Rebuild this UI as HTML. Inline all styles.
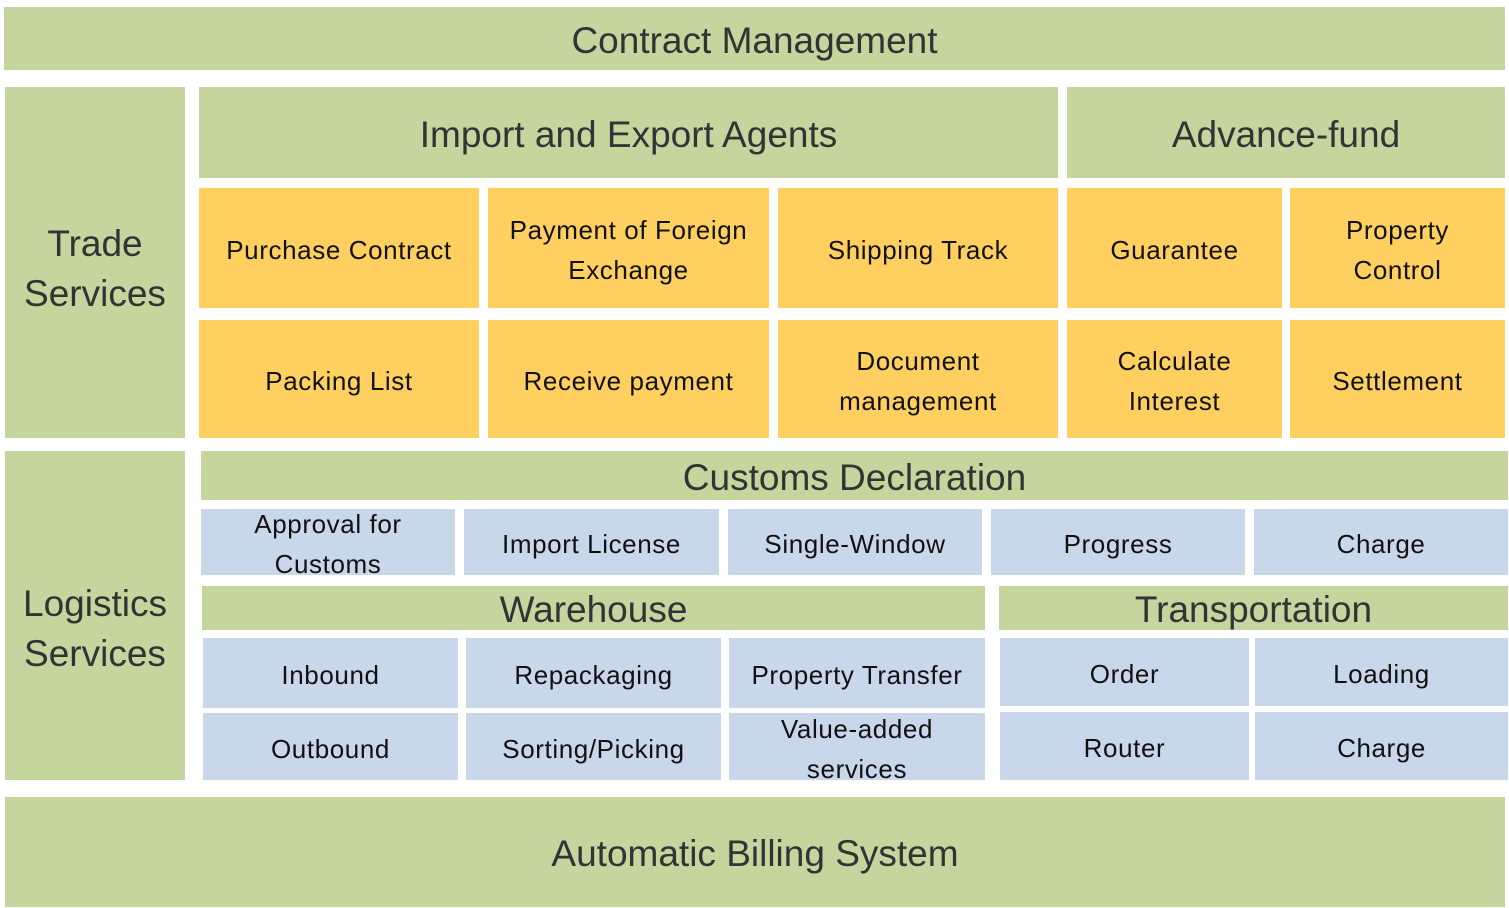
<!DOCTYPE html>
<html><head><style>
body{margin:0;width:1509px;height:908px;background:#fff;position:relative;overflow:hidden;font-family:"Liberation Sans",sans-serif;}
div.b{position:absolute;display:flex;align-items:center;justify-content:center;text-align:center;box-sizing:border-box;padding-top:4px;}
.g{background:#C4D59E;color:#333;font-size:37px;}
.o{background:#FFD05F;color:#111;font-size:26px;line-height:40px;letter-spacing:0.6px;}
.u{background:#C9D7EA;color:#111;font-size:26px;line-height:40px;letter-spacing:0.6px;}
</style></head><body>
<div class="b g" style="left:4px;top:7px;width:1501px;height:63px">Contract Management</div>
<div class="b g" style="left:5px;top:87px;width:180px;height:351px;line-height:50px;padding-top:12px">Trade<br>Services</div>
<div class="b g" style="left:199px;top:87px;width:859px;height:91px">Import and Export Agents</div>
<div class="b g" style="left:1067px;top:87px;width:438px;height:91px">Advance-fund</div>

<div class="b o" style="left:199px;top:188px;width:280px;height:120px">Purchase Contract</div>
<div class="b o" style="left:488px;top:188px;width:281px;height:120px">Payment of Foreign<br>Exchange</div>
<div class="b o" style="left:778px;top:188px;width:280px;height:120px">Shipping Track</div>
<div class="b o" style="left:1067px;top:188px;width:215px;height:120px">Guarantee</div>
<div class="b o" style="left:1290px;top:188px;width:215px;height:120px">Property<br>Control</div>
<div class="b o" style="left:199px;top:320px;width:280px;height:118px">Packing List</div>
<div class="b o" style="left:488px;top:320px;width:281px;height:118px">Receive payment</div>
<div class="b o" style="left:778px;top:320px;width:280px;height:118px">Document<br>management</div>
<div class="b o" style="left:1067px;top:320px;width:215px;height:118px">Calculate<br>Interest</div>
<div class="b o" style="left:1290px;top:320px;width:215px;height:118px">Settlement</div>

<div class="b g" style="left:5px;top:451px;width:180px;height:329px;line-height:50px;padding-top:26px">Logistics<br>Services</div>
<div class="b g" style="left:201px;top:451px;width:1307px;height:49px">Customs Declaration</div>
<div class="b u" style="left:201px;top:509px;width:254px;height:66px">Approval for<br>Customs</div>
<div class="b u" style="left:464px;top:509px;width:255px;height:66px">Import License</div>
<div class="b u" style="left:728px;top:509px;width:254px;height:66px">Single-Window</div>
<div class="b u" style="left:991px;top:509px;width:254px;height:66px">Progress</div>
<div class="b u" style="left:1254px;top:509px;width:254px;height:66px">Charge</div>

<div class="b g" style="left:202px;top:586px;width:783px;height:44px">Warehouse</div>
<div class="b g" style="left:999px;top:586px;width:509px;height:44px">Transportation</div>
<div class="b u" style="left:203px;top:638px;width:255px;height:70px">Inbound</div>
<div class="b u" style="left:466px;top:638px;width:255px;height:70px">Repackaging</div>
<div class="b u" style="left:729px;top:638px;width:256px;height:70px">Property Transfer</div>
<div class="b u" style="left:203px;top:713px;width:255px;height:67px">Outbound</div>
<div class="b u" style="left:466px;top:713px;width:255px;height:67px">Sorting/Picking</div>
<div class="b u" style="left:729px;top:713px;width:256px;height:67px">Value-added<br>services</div>
<div class="b u" style="left:1000px;top:638px;width:249px;height:68px">Order</div>
<div class="b u" style="left:1255px;top:638px;width:253px;height:68px">Loading</div>
<div class="b u" style="left:1000px;top:712px;width:249px;height:68px">Router</div>
<div class="b u" style="left:1255px;top:712px;width:253px;height:68px">Charge</div>

<div class="b g" style="left:5px;top:797px;width:1500px;height:110px">Automatic Billing System</div>
</body></html>
